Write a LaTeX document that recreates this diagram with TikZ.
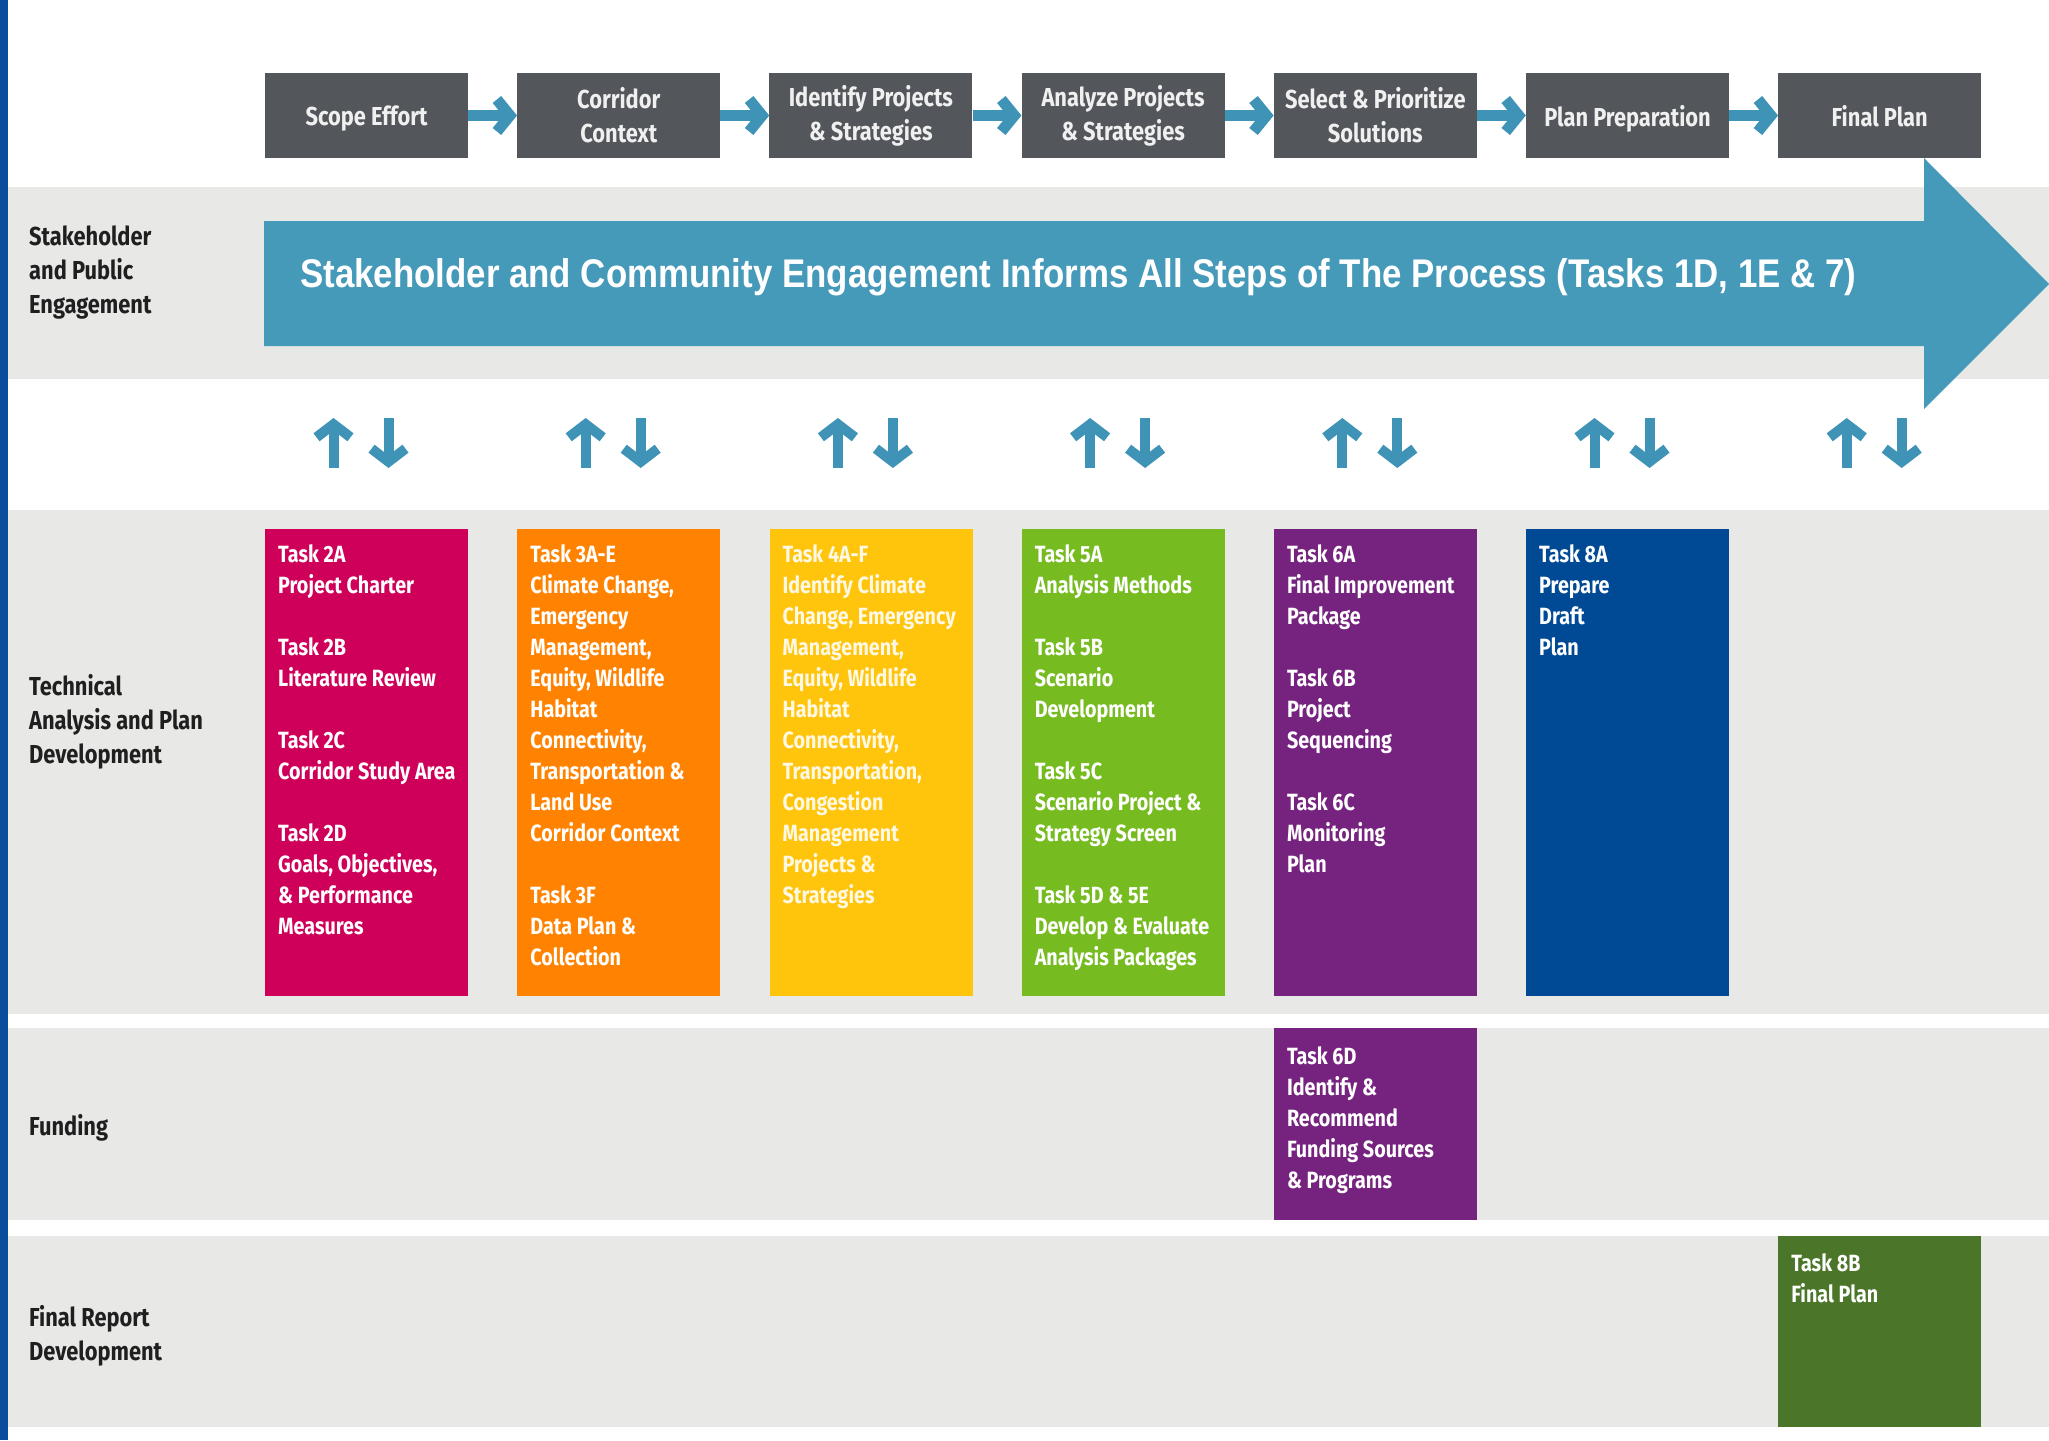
\documentclass[tikz,border=0pt]{standalone}
\usepackage{fontspec}
\usepackage{graphicx}
\newfontfamily\condfont{Fira Sans}[FakeStretch=0.84]
\newfontfamily\arialfont{Liberation Sans}
\usetikzlibrary{arrows.meta}
\definecolor{stepgrey}{HTML}{53565A}
\definecolor{teal}{HTML}{4599B9}
\definecolor{smallteal}{HTML}{3F93B6}
\definecolor{band}{HTML}{E8E8E7}
\definecolor{leftbar}{HTML}{0A4D9C}
\definecolor{cmag}{HTML}{CF0059}
\definecolor{corange}{HTML}{FF8300}
\definecolor{cyellow}{HTML}{FFC40C}
\definecolor{cgreen}{HTML}{76BC21}
\definecolor{cpurple}{HTML}{76237F}
\definecolor{cnavy}{HTML}{004A95}
\definecolor{cdkgreen}{HTML}{4B7629}
\tikzset{
  stepbox/.style={fill=stepgrey, minimum width=203pt, minimum height=85pt, inner sep=0pt,
    text=white!94!black, align=center, font=\condfont\bfseries\fontsize{26}{34}\selectfont},
  oneline/.style={text depth=0pt},
  taskbox/.style={anchor=north west, minimum width=203pt, inner sep=0pt},
  tasktext/.style={anchor=north west, inner sep=0pt, align=left, text=white,
    font=\condfont\bfseries\fontsize{23.5}{31}\selectfont},
  rowlabel/.style={anchor=west, inner sep=0pt, align=left, text=black!88,
    font=\condfont\bfseries\fontsize{26}{34}\selectfont},
  steparrow/.style={draw=smallteal, line width=11pt, -{Straight Barb[sharp,length=13pt,width=32pt]}},
  varrow/.style={draw=smallteal, line width=10pt, -{Straight Barb[sharp,length=13pt,width=34pt]}}
}
\begin{document}
\begin{tikzpicture}[x=1pt,y=-1pt]
\fill[white] (0,0) rectangle (2049,1440);
\useasboundingbox (0,0) rectangle (2049,1440);
% left bar
\fill[leftbar] (0,0) rectangle (8,1440);
% bands
\fill[band] (8,187) rectangle (2049,379);
\fill[band] (8,510) rectangle (2049,1014);
\fill[band] (8,1028) rectangle (2049,1220);
\fill[band] (8,1236) rectangle (2049,1427);
% step boxes
\node[stepbox, oneline] (s1) at (366.5,115.5) {Scope Effort};
\node[stepbox] (s2) at (618.7,115.5) {Corridor\\Context};
\node[stepbox] (s3) at (870.9,115.5) {Identify Projects\\\& Strategies};
\node[stepbox] (s4) at (1123.1,115.5) {Analyze Projects\\\& Strategies};
\node[stepbox] (s5) at (1375.3,115.5) {Select \& Prioritize\\Solutions};
\node[stepbox, oneline] (s6) at (1627.5,115.5) {Plan Preparation};
\node[stepbox, oneline] (s7) at (1879.7,115.5) {Final Plan};
\foreach \a/\b in {s1/s2,s2/s3,s3/s4,s4/s5,s5/s6,s6/s7}
  \draw[steparrow] (\a.east) -- (\b.west);
% big arrow
\fill[teal] (264,221) -- (1924,221) -- (1924,158) -- (2049,284) -- (1924,409) -- (1924,346) -- (264,346) -- cycle;
\node[anchor=west, inner sep=0pt, text=white, font=\arialfont\bfseries\fontsize{40}{44}\selectfont] (eng) at (300,277)
  {\resizebox{1556pt}{\height}{Stakeholder and Community Engagement Informs All Steps of The Process (Tasks 1D, 1E \& 7)}};
% up/down arrows
\foreach \c in {366.5,618.7,870.9,1123.1,1375.3,1627.5,1879.7}{
  \draw[varrow] (\c-33,468) -- (\c-33,418);
  \draw[varrow] (\c+22,418) -- (\c+22,468);
}
% row labels
\node[rowlabel] (l1) at (29,273) {Stakeholder\\and Public\\Engagement};
\node[rowlabel] (l2) at (29,722) {Technical\\Analysis and Plan\\Development};
\node[rowlabel] (l3) at (29,1128) {Funding};
\node[rowlabel] (l4) at (29,1336) {Final Report\\Development};
% task boxes
\node[taskbox, fill=cmag, minimum height=467pt] (t2) at (265,529) {};
\node[taskbox, fill=corange, minimum height=467pt] (t3) at (517.2,529) {};
\node[taskbox, fill=cyellow, minimum height=467pt] (t4) at (769.4,529) {};
\node[taskbox, fill=cgreen, minimum height=467pt] (t5) at (1021.6,529) {};
\node[taskbox, fill=cpurple, minimum height=467pt] (t6) at (1273.8,529) {};
\node[taskbox, fill=cnavy, minimum height=467pt] (t8a) at (1526,529) {};
\node[taskbox, fill=cpurple, minimum height=192pt] (t6d) at (1273.8,1028) {};
\node[taskbox, fill=cdkgreen, minimum height=191pt] (t8b) at (1778.2,1236) {};
% task texts
\node[tasktext] (x2) at (278,544) {Task 2A\\Project Charter\\[31pt]Task 2B\\Literature Review\\[31pt]Task 2C\\Corridor Study Area\\[31pt]Task 2D\\Goals, Objectives,\\\& Performance\\Measures};
\node[tasktext] (x3) at (530.2,544) {Task 3A-E\\Climate Change,\\Emergency\\Management,\\Equity, Wildlife\\Habitat\\Connectivity,\\Transportation \&\\Land Use\\Corridor Context\\[31pt]Task 3F\\Data Plan \&\\Collection};
\node[tasktext, text=white!88!cyellow] (x4) at (782.4,544) {Task 4A-F\\Identify Climate\\Change, Emergency\\Management,\\Equity, Wildlife\\Habitat\\Connectivity,\\Transportation,\\Congestion\\Management\\Projects \&\\Strategies};
\node[tasktext] (x5) at (1034.6,544) {Task 5A\\Analysis Methods\\[31pt]Task 5B\\Scenario\\Development\\[31pt]Task 5C\\Scenario Project \&\\Strategy Screen\\[31pt]Task 5D \& 5E\\Develop \& Evaluate\\Analysis Packages};
\node[tasktext] (x6) at (1286.8,544) {Task 6A\\Final Improvement\\Package\\[31pt]Task 6B\\Project\\Sequencing\\[31pt]Task 6C\\Monitoring\\Plan};
\node[tasktext] (x8a) at (1539,544) {Task 8A\\Prepare\\Draft\\Plan};
\node[tasktext] (x6d) at (1286.8,1046) {Task 6D\\Identify \&\\Recommend\\Funding Sources\\\& Programs};
\node[tasktext] (x8b) at (1791.2,1253) {Task 8B\\Final Plan};
\end{tikzpicture}
\end{document}
